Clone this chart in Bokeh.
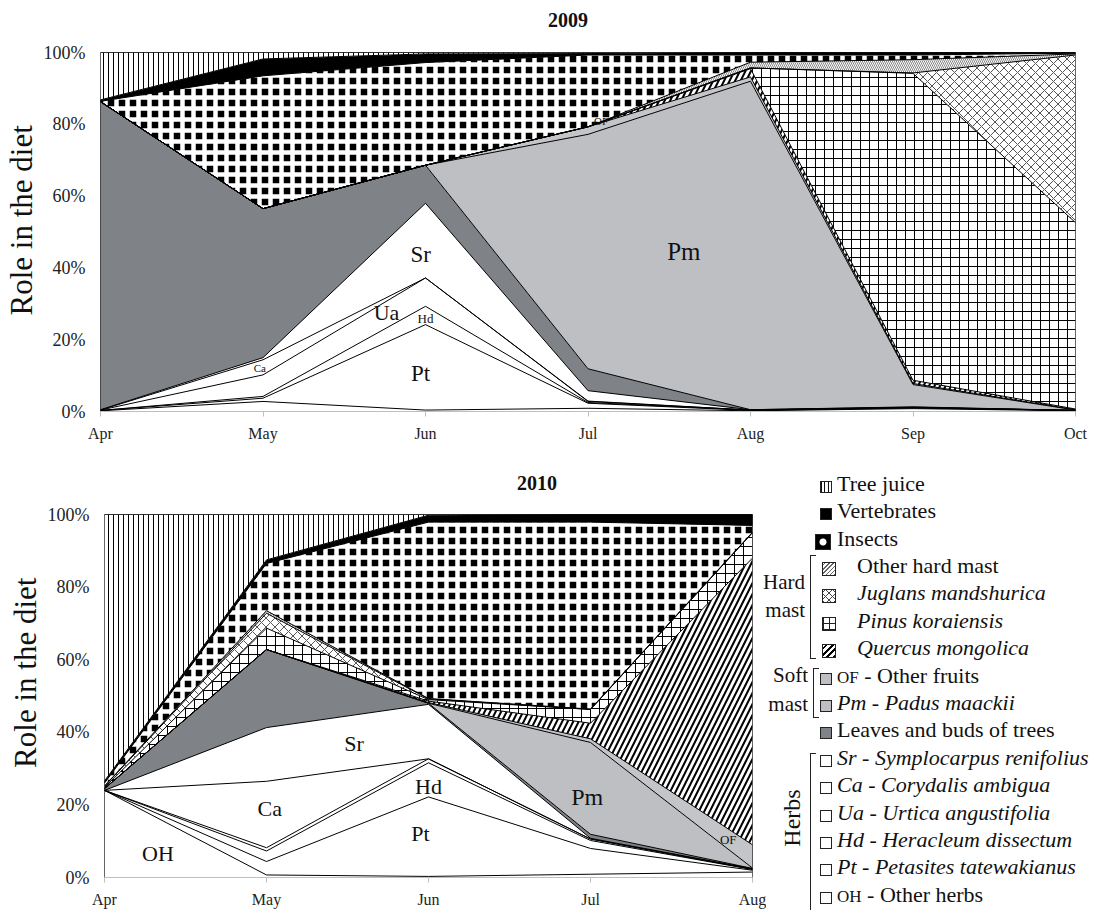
from bokeh.plotting import figure
from bokeh.layouts import column, row
from bokeh.models import (ColumnDataSource, Range1d, FixedTicker, PrintfTickFormatter, Div)
from bokeh.transform import stack
from bokeh.core.properties import value
from bokeh.embed import file_html
from bokeh.resources import INLINE

FONT = "Liberation Serif"

# ---------------- data (share of the diet, %) ----------------
months_2009 = ["Apr", "May", "Jun", "Jul", "Aug", "Sep", "Oct"]
oh_2009 = [0.2, 2.8, 0.4, 0.9, 0.2, 0.8, 0.2]
pt_2009 = [0.1, 0.9, 23.8, 1.4, 0.1, 0.2, 0.1]
hd_2009 = [0.0, 0.5, 5.1, 0.2, 0.1, 0.1, 0.0]
ua_2009 = [0.1, 6.0, 7.9, 0.3, 0.0, 0.0, 0.0]
ca_2009 = [0.0, 4.2, 0.0, 0.1, 0.0, 0.0, 0.0]
sr_2009 = [0.1, 0.6, 20.8, 2.9, 0.1, 0.1, 0.0]
leaves_2009 = [85.8, 41.5, 10.6, 6.1, 0.0, 0.1, 0.0]
pm_2009 = [0.0, 0.0, 0.0, 65.3, 91.5, 6.2, 0.1]
of_2009 = [0.0, 0.0, 0.0, 2.1, 1.2, 0.3, 0.1]
quercus_2009 = [0.0, 0.0, 0.0, 0.0, 2.3, 0.9, 0.2]
pinus_2009 = [0.0, 0.0, 0.0, 0.0, 0.2, 85.5, 51.9]
juglans_2009 = [0.0, 0.0, 0.0, 0.0, 0.0, 0.1, 46.7]
otherhard_2009 = [0.0, 0.0, 0.0, 0.0, 1.6, 3.7, 0.3]
insects_2009 = [0.1, 37.0, 28.6, 20.0, 2.0, 1.3, 0.2]
vertebrates_2009 = [0.4, 4.7, 2.4, 0.4, 0.7, 0.7, 0.2]
treejuice_2009 = [13.2, 1.8, 0.4, 0.3, 0.0, 0.0, 0.0]

months_2010 = ["Apr", "May", "Jun", "Jul", "Aug"]
oh_2010 = [24.0, 0.7, 0.3, 0.9, 1.5]
pt_2010 = [0.0, 3.7, 21.9, 7.1, 0.5]
hd_2010 = [0.0, 2.9, 9.4, 2.2, 0.2]
ua_2010 = [0.0, 0.9, 1.1, 0.4, 0.1]
ca_2010 = [0.0, 18.3, 0.0, 0.0, 0.0]
sr_2010 = [0.0, 14.8, 15.0, 0.2, 0.1]
leaves_2010 = [0.5, 21.5, 0.3, 1.1, 0.1]
pm_2010 = [0.0, 0.0, 0.0, 25.3, 0.1]
of_2010 = [0.0, 0.0, 0.2, 1.0, 6.4]
quercus_2010 = [0.0, 0.0, 0.4, 4.3, 79.0]
pinus_2010 = [0.3, 5.9, 0.4, 3.8, 7.0]
juglans_2010 = [0.3, 4.1, 0.2, 0.0, 0.0]
otherhard_2010 = [0.1, 0.7, 0.1, 0.1, 0.1]
insects_2010 = [0.8, 13.0, 48.6, 51.5, 1.9]
vertebrates_2010 = [0.6, 1.0, 1.9, 2.1, 3.0]
treejuice_2010 = [73.4, 12.5, 0.2, 0.0, 0.0]

LAYERS = ["OH", "Pt", "Hd", "Ua", "Ca", "Sr", "Leaves", "Pm", "OF", "Quercus",
          "Pinus", "Juglans", "OtherHard", "Insects", "Vertebrates", "TreeJuice"]

series_2009 = dict(zip(LAYERS, [oh_2009, pt_2009, hd_2009, ua_2009, ca_2009, sr_2009,
                                leaves_2009, pm_2009, of_2009, quercus_2009, pinus_2009,
                                juglans_2009, otherhard_2009, insects_2009,
                                vertebrates_2009, treejuice_2009]))
series_2010 = dict(zip(LAYERS, [oh_2010, pt_2010, hd_2010, ua_2010, ca_2010, sr_2010,
                                leaves_2010, pm_2010, of_2010, quercus_2010, pinus_2010,
                                juglans_2010, otherhard_2010, insects_2010,
                                vertebrates_2010, treejuice_2010]))

# ---------------- styles ----------------
WHITE = dict(fill="white")
STYLE = {
    "OH": WHITE, "Pt": WHITE, "Hd": WHITE, "Ua": WHITE, "Ca": WHITE, "Sr": WHITE,
    "Leaves": dict(fill="#7f8286"),
    "Pm": dict(fill="#bdbfc3"),
    "OF": dict(fill="#c4c5c9"),
    "Quercus": dict(fill="white", hatch="/", hcolor="black", hscale=11, hweight=2.0),
    "Pinus": dict(fill="white", hatch="+", hcolor="black", hscale=9, hweight=1.0),
    "Juglans": dict(fill="white", hatch="x", hcolor="#555555", hscale=9, hweight=1.0),
    "OtherHard": dict(fill="white", hatch="\\", hcolor="#666666", hscale=4, hweight=0.8),
    "Insects": dict(fill="black", hatch="+", hcolor="white", hscale=11, hweight=4.5),
    "Vertebrates": dict(fill="black"),
    "TreeJuice": dict(fill="white", hatch="|", hcolor="black", hscale=5, hweight=1.0),
}


def hatch_kw(st):
    if "hatch" not in st:
        return {}
    return dict(hatch_pattern=st["hatch"], hatch_color=st["hcolor"],
                hatch_scale=st["hscale"], hatch_weight=st["hweight"])


def make_chart(months, series, width, height, borders, labels, label_pad):
    n = len(months)
    data = {"x": list(range(n))}
    data.update(series)
    src = ColumnDataSource(data)
    bl, br, bt, bb = borders
    p = figure(width=width, height=height, x_range=Range1d(0, n - 1),
               y_range=Range1d(0, 100), toolbar_location=None, output_backend="svg",
               min_border_left=bl, min_border_right=br, min_border_top=bt,
               min_border_bottom=bb)
    for i, name in enumerate(LAYERS):
        st = STYLE[name]
        y1 = 0 if i == 0 else stack(*LAYERS[:i])
        p.varea(x="x", y1=y1, y2=stack(*LAYERS[:i + 1]), source=src,
                fill_color=st["fill"], **hatch_kw(st))
    for i, name in enumerate(LAYERS):
        p.line(x="x", y=stack(*LAYERS[:i + 1]), source=src, line_color="black",
               line_width=1)
    for (txt, xi, yv, size) in labels:
        p.text(x=[xi], y=[yv], text=[txt], text_font=value(FONT),
               text_font_size=size, text_align="center", text_baseline="middle",
               text_color="#111111")

    p.grid.visible = False
    p.outline_line_color = "#333333"
    p.outline_line_width = 1
    p.background_fill_color = "white"
    p.border_fill_color = "white"

    p.xaxis.ticker = FixedTicker(ticks=list(range(n)))
    p.xaxis.major_label_overrides = {i: m for i, m in enumerate(months)}
    p.xaxis.axis_line_color = "#bfbfbf"
    p.xaxis.major_tick_line_color = "#bfbfbf"
    p.xaxis.major_tick_out = 5
    p.xaxis.major_tick_in = 0
    p.xaxis.minor_tick_line_color = None
    p.xaxis.major_label_text_font = FONT
    p.xaxis.major_label_text_font_size = "16px"
    p.xaxis.major_label_text_color = "#222222"
    p.xaxis.major_label_standoff = 8

    p.yaxis.ticker = FixedTicker(ticks=[0, 20, 40, 60, 80, 100])
    p.yaxis.formatter = PrintfTickFormatter(format="%d%%")
    p.yaxis.axis_line_color = None
    p.yaxis.major_tick_line_color = None
    p.yaxis.major_tick_out = 0
    p.yaxis.major_tick_in = 0
    p.yaxis.minor_tick_line_color = None
    p.yaxis.major_label_text_font = FONT
    p.yaxis.major_label_text_font_size = "18px"
    p.yaxis.major_label_text_color = "#222222"
    p.yaxis.major_label_standoff = 15
    p.yaxis.axis_label = "\u00a0" * label_pad + "Role in the diet"
    p.yaxis.axis_label_text_font = FONT
    p.yaxis.axis_label_text_font_size = "31px"
    p.yaxis.axis_label_text_font_style = "normal"
    p.yaxis.axis_label_text_color = "#111111"
    p.yaxis.axis_label_standoff = 2
    return p


def title_div(text, width, height, cx, cy):
    html = (f'<div style="position:relative;width:{width}px;height:{height}px;">'
            f'<div style="position:absolute;left:{cx}px;top:{cy}px;'
            f'transform:translate(-50%,-50%);font-family:\'{FONT}\',serif;'
            f'font-weight:bold;font-size:20px;line-height:22px;color:#111;'
            f'white-space:nowrap;">{text}</div></div>')
    return Div(text=html, width=width, height=height, margin=0)


labels_2009 = [("Sr", 1.97, 43.7, "23px"), ("Ua", 1.76, 27.5, "22px"),
               ("Hd", 2.0, 25.8, "13px"), ("Ca", 0.98, 12.0, "11px"),
               ("Pt", 1.97, 10.5, "23px"), ("Pm", 3.59, 44.7, "25px"),
               ("OF", 3.08, 81.0, "11px")]
labels_2010 = [("OH", 0.33, 6.5, "22px"), ("Ca", 1.02, 19.0, "22px"),
               ("Sr", 1.54, 36.8, "22px"), ("Hd", 2.0, 25.0, "22px"),
               ("Pt", 1.95, 12.0, "22px"), ("Pm", 2.98, 22.2, "24px"),
               ("OF", 3.85, 10.5, "13px")]

P2W = 766
t1 = title_div("2009", 1096, 36, 568, 20)
p1 = make_chart(months_2009, series_2009, 1096, 414, (100, 21, 16, 39), labels_2009, 3)
t2 = title_div("2010", P2W, 46, 537, 33)
p2 = make_chart(months_2010, series_2010, P2W, 414, (104, P2W - 752, 18, 31),
                labels_2010, 6)

# ---------------- legend (HTML panel) ----------------
SW = {
    "TreeJuice": "background:repeating-linear-gradient(90deg,#111 0 1px,#fff 1px 3.5px);",
    "Vertebrates": "background:#000;",
    "Insects": "background:radial-gradient(circle at 50% 50%,#fff 0 3px,#000 4px);",
    "OtherHard": "background:repeating-linear-gradient(-45deg,#666 0 1px,#fff 1px 3px);",
    "Juglans": ("background:repeating-linear-gradient(45deg,#444 0 1px,transparent 1px 5px),"
                "repeating-linear-gradient(-45deg,#444 0 1px,#fff 1px 5px);"),
    "Pinus": ("background:repeating-linear-gradient(0deg,#222 0 1px,transparent 1px 6px),"
              "repeating-linear-gradient(90deg,#222 0 1px,#fff 1px 6px);"),
    "Quercus": "background:repeating-linear-gradient(-45deg,#000 0 2px,#fff 2px 4.5px);",
    "OF": "background:#bdbfc3;", "Pm": "background:#bdbfc3;",
    "Leaves": "background:#7f8286;",
}

legend_entries = [
    ("TreeJuice", "Tree juice", "normal"),
    ("Vertebrates", "Vertebrates", "normal"),
    ("Insects", "Insects", "normal"),
    ("OtherHard", "Other hard mast", "normal"),
    ("Juglans", "Juglans mandshurica", "italic"),
    ("Pinus", "Pinus koraiensis", "italic"),
    ("Quercus", "Quercus mongolica", "italic"),
    ("OF", '<span style="font-size:17px">OF</span> - Other fruits', "normal"),
    ("Pm", "Pm - Padus maackii", "italic"),
    ("Leaves", "Leaves and buds of trees", "normal"),
    ("Sr", "Sr - Symplocarpus renifolius", "italic"),
    ("Ca", "Ca - Corydalis ambigua", "italic"),
    ("Ua", "Ua - Urtica angustifolia", "italic"),
    ("Hd", "Hd - Heracleum dissectum", "italic"),
    ("Pt", "Pt - Petasites tatewakianus", "italic"),
    ("OH", '<span style="font-size:17px">OH</span> - Other herbs', "normal"),
]
hard = {"OtherHard", "Juglans", "Pinus", "Quercus"}

X0 = 766  # page x of the legend panel's left edge
Y0 = 450  # page y of the legend panel's top edge
parts = []
for k, (key, txt, fstyle) in enumerate(legend_entries):
    yc = 486.7 + k * 27.4 - Y0 - 3
    if key in hard:
        sx, sz, tx = 822, 14, 857
    elif key == "Insects":
        sx, sz, tx = 815, 16, 837
    else:
        sx, sz, tx = 820, 12, 837
    bg = SW.get(key, "background:#fff;")
    parts.append(
        f'<div style="position:absolute;left:{sx - X0}px;top:{yc + 3 - sz / 2:.1f}px;'
        f'width:{sz}px;height:{sz}px;box-sizing:border-box;border:1px solid #222;{bg}">'
        f'</div>')
    parts.append(
        f'<div style="position:absolute;left:{tx - X0}px;top:{yc - 12:.1f}px;height:24px;'
        f'line-height:24px;font-size:22px;font-style:{fstyle};white-space:nowrap;">'
        f'{txt}</div>')

for (txt, right, yc) in [("Hard", 805, 585), ("mast", 805, 613), ("Soft", 808, 678),
                         ("mast", 808, 707)]:
    r = right - X0
    parts.append(
        f'<div style="position:absolute;left:{r - 60}px;width:60px;top:{yc - Y0 - 15}px;'
        f'height:24px;line-height:24px;font-size:21px;text-align:right;'
        f'white-space:nowrap;">{txt}</div>')

for (bx, top, bot, closed) in [(810, 555, 659, True), (813, 668, 718, True),
                               (810, 753, 910, False)]:
    bb = "border-bottom:1.5px solid #222;" if closed else ""
    parts.append(
        f'<div style="position:absolute;left:{bx - X0}px;top:{top - Y0}px;width:6px;'
        f'height:{bot - top}px;box-sizing:border-box;border-left:1.5px solid #222;'
        f'border-top:1.5px solid #222;{bb}"></div>')

parts.append(
    f'<div style="position:absolute;left:{792 - X0}px;top:{818 - Y0}px;'
    'transform:translate(-50%,-50%) rotate(-90deg);font-size:24px;line-height:26px;'
    'white-space:nowrap;">Herbs</div>')

LEGW = 1098 - X0
html = (f'<div style="position:relative;width:{LEGW}px;height:460px;overflow:visible;'
        f'color:#111;font-family:\'{FONT}\',serif;">'
        + "".join(parts) + "</div>")
legend_div = Div(text=html, width=LEGW, height=460, margin=0)

layout = column(t1, p1, row(column(t2, p2), legend_div))
open("out.html", "w").write(file_html(layout, INLINE))
